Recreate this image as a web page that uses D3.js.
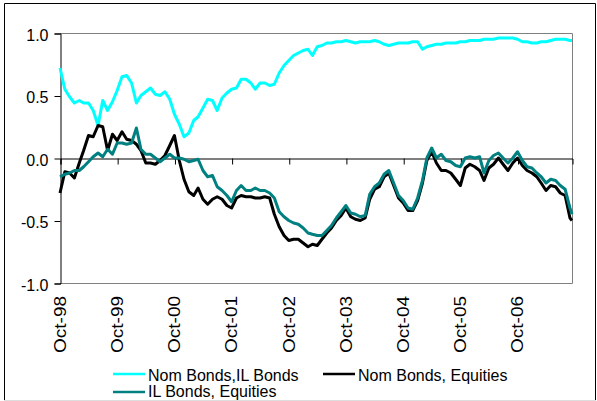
<!DOCTYPE html>
<html>
<head>
<meta charset="utf-8">
<script src="https://cdn.jsdelivr.net/npm/d3@7"></script>
<style>
    body { margin: 0; background: #fff; }
    text { font-family: "Liberation Sans", Arial, sans-serif; fill: #000; }
</style>
</head>
<body>
<svg id="chart" width="597" height="401"></svg>
<script>
// monthly readings, Oct-98 .. Sep-07 (last point mid Sep-07)
const startDate = new Date(1998, 9, 1);
const endDate = new Date(2007, 8, 14);

const nomIL = [
    0.72, 0.55, 0.49, 0.44, 0.46, 0.44, 0.44, 0.38, 0.26, 0.46, 0.38, 0.45,
    0.54, 0.65, 0.66, 0.60, 0.44, 0.50, 0.53, 0.56, 0.51, 0.50, 0.53, 0.47,
    0.35, 0.27, 0.17, 0.20, 0.30, 0.33, 0.40, 0.47, 0.46, 0.38, 0.48, 0.52,
    0.55, 0.56, 0.63, 0.63, 0.60, 0.55, 0.60, 0.60, 0.58, 0.59, 0.68, 0.74,
    0.78, 0.82, 0.84, 0.86, 0.87, 0.82, 0.89, 0.90, 0.92, 0.92, 0.93, 0.93,
    0.94, 0.93, 0.92, 0.93, 0.93, 0.93, 0.94, 0.93, 0.91, 0.90, 0.91, 0.92,
    0.92, 0.92, 0.93, 0.93, 0.87, 0.89, 0.90, 0.91, 0.91, 0.92, 0.92, 0.92,
    0.93, 0.93, 0.94, 0.94, 0.94, 0.95, 0.95, 0.95, 0.96, 0.96, 0.96, 0.96,
    0.95, 0.93, 0.93, 0.92, 0.92, 0.93, 0.93, 0.94, 0.95, 0.95, 0.95, 0.94,
    0.94
];

const nomEq = [
    -0.28, -0.11, -0.12, -0.16, -0.04, 0.06, 0.18, 0.17, 0.26, 0.25, 0.06, 0.19,
    0.14, 0.21, 0.15, 0.14, 0.11, 0.06, -0.04, -0.04, -0.05, -0.02, 0.02, 0.10,
    0.18, -0.02, -0.17, -0.27, -0.30, -0.24, -0.33, -0.37, -0.33, -0.31, -0.33, -0.38,
    -0.40, -0.32, -0.30, -0.31, -0.31, -0.32, -0.32, -0.31, -0.32, -0.45, -0.55, -0.62,
    -0.66, -0.65, -0.65, -0.68, -0.71, -0.69, -0.70, -0.65, -0.60, -0.56, -0.50, -0.46,
    -0.40, -0.47, -0.49, -0.50, -0.48, -0.33, -0.25, -0.23, -0.15, -0.12, -0.22, -0.32,
    -0.36, -0.42, -0.42, -0.34, -0.20, -0.02, 0.05, -0.04, -0.10, -0.10, -0.12, -0.17,
    -0.22, -0.08, -0.05, -0.07, -0.10, -0.18, -0.08, -0.05, 0.00, -0.05, -0.10, -0.04,
    0.00, -0.06, -0.10, -0.12, -0.15, -0.20, -0.26, -0.22, -0.23, -0.28, -0.30, -0.48,
    -0.50
];

const ilEq = [
    -0.15, -0.13, -0.12, -0.10, -0.10, -0.07, -0.03, 0.01, 0.04, 0.01, 0.07, 0.03,
    0.12, 0.12, 0.11, 0.12, 0.24, 0.07, 0.03, 0.03, 0.00, -0.03, 0.00, 0.03,
    0.00, 0.00, -0.01, -0.03, -0.02, -0.01, -0.10, -0.15, -0.14, -0.23, -0.26, -0.30,
    -0.35, -0.26, -0.22, -0.26, -0.26, -0.24, -0.26, -0.26, -0.28, -0.32, -0.43, -0.47,
    -0.50, -0.52, -0.53, -0.56, -0.60, -0.61, -0.62, -0.62, -0.58, -0.54, -0.48, -0.43,
    -0.38, -0.44, -0.45, -0.47, -0.46, -0.29, -0.23, -0.20, -0.13, -0.10, -0.20, -0.30,
    -0.34, -0.40, -0.41, -0.32, -0.18, 0.00, 0.08, 0.00, 0.03, -0.02, -0.03, -0.06,
    -0.07, 0.00, 0.01, 0.00, 0.01, -0.12, -0.02, 0.02, 0.04, 0.00, -0.04, 0.00,
    0.05, -0.02, -0.07, -0.08, -0.12, -0.15, -0.20, -0.17, -0.18, -0.22, -0.25, -0.40,
    -0.45
];

const yTicks = [-1, -0.5, 0, 0.5, 1];
const xTickLabels = ["Oct-98", "Oct-99", "Oct-00", "Oct-01", "Oct-02", "Oct-03", "Oct-04", "Oct-05", "Oct-06"];

const seriesNames = ["Nom Bonds,IL Bonds", "Nom Bonds, Equities", "IL Bonds, Equities"];
const seriesColours = ["#00FFFF", "#000000", "#008080"];

const dates = d3.timeMonth.range(startDate, new Date(2007, 8, 2)).concat([endDate]);
const tickDates = xTickLabels.map(function (d, i) {
    return new Date(1998 + i, 9, 1);
});

const svg = d3.select("#chart");

// outer frame
svg.append("path").attr("d", "M4.5,400V3.5H595.5V400")
    .attr("fill", "none").attr("stroke", "#000");
svg.append("line").attr("x1", 4).attr("x2", 596).attr("y1", 400.5).attr("y2", 400.5)
    .attr("stroke", "#ddd");

const x = d3.scaleTime().domain([startDate, endDate]).range([60, 572]);
const y = d3.scaleLinear().domain([-1, 1]).range([283, 33]);

// plot area border
svg.append("path")
    .attr("d", `M${x.range()[0]},${y(1) + 0.5}H${x.range()[1] + 0.5}V${y(-1) + 0.5}H${x.range()[0]}`)
    .attr("fill", "none").attr("stroke", "#808080");

// y axis (plain hyphen for negatives, like the original)
const yAxis = svg.append("g").attr("transform", "translate(60.5,0.5)")
    .call(d3.axisLeft(y).tickValues(yTicks).tickSize(6).tickPadding(6).tickFormat(function (d) {
        return d.toFixed(1);
    }));
yAxis.select(".domain").attr("stroke", "#000");
yAxis.selectAll("text").attr("font-size", 16).attr("font-family", null).attr("dy", "0.42em");

// x axis on the zero line
const xAxis = svg.append("g").attr("transform", `translate(0.5,${y(0) + 0.5})`)
    .call(d3.axisBottom(x).tickValues(tickDates).tickSize(6).tickFormat(""));
xAxis.select(".domain").attr("stroke", "#000");

svg.append("g").selectAll("text")
    .data(tickDates)
    .enter()
    .append("text")
    .attr("transform", function (d) {
        return `translate(${x(d)},296) rotate(-90)`;
    })
    .attr("text-anchor", "end")
    .attr("dy", "0.36em")
    .attr("font-size", 16)
    .attr("textLength", 57)
    .attr("lengthAdjust", "spacingAndGlyphs")
    .text(function (d, i) {
        return xTickLabels[i];
    });

// series lines
const line = d3.line()
    .x(function (d, i) { return x(dates[i]); })
    .y(function (d) { return y(d); });

[nomIL, nomEq, ilEq].forEach(function (values, i) {
    svg.append("path")
        .datum(values)
        .attr("fill", "none")
        .attr("stroke", seriesColours[i])
        .attr("stroke-width", 3)
        .attr("stroke-linejoin", "round")
        .attr("d", line);
});

// legend
const legendItems = [
    {lx: 113, ly: 374, ty: 381},
    {lx: 323, ly: 374, ty: 381},
    {lx: 113, ly: 392, ty: 397}
];
legendItems.forEach(function (item, i) {
    svg.append("line")
        .attr("x1", item.lx).attr("x2", item.lx + 32)
        .attr("y1", item.ly).attr("y2", item.ly)
        .attr("stroke", seriesColours[i])
        .attr("stroke-width", 2.5);
    svg.append("text")
        .attr("x", item.lx + 35)
        .attr("y", item.ty)
        .attr("font-size", 16)
        .text(seriesNames[i]);
});
</script>
</body>
</html>
